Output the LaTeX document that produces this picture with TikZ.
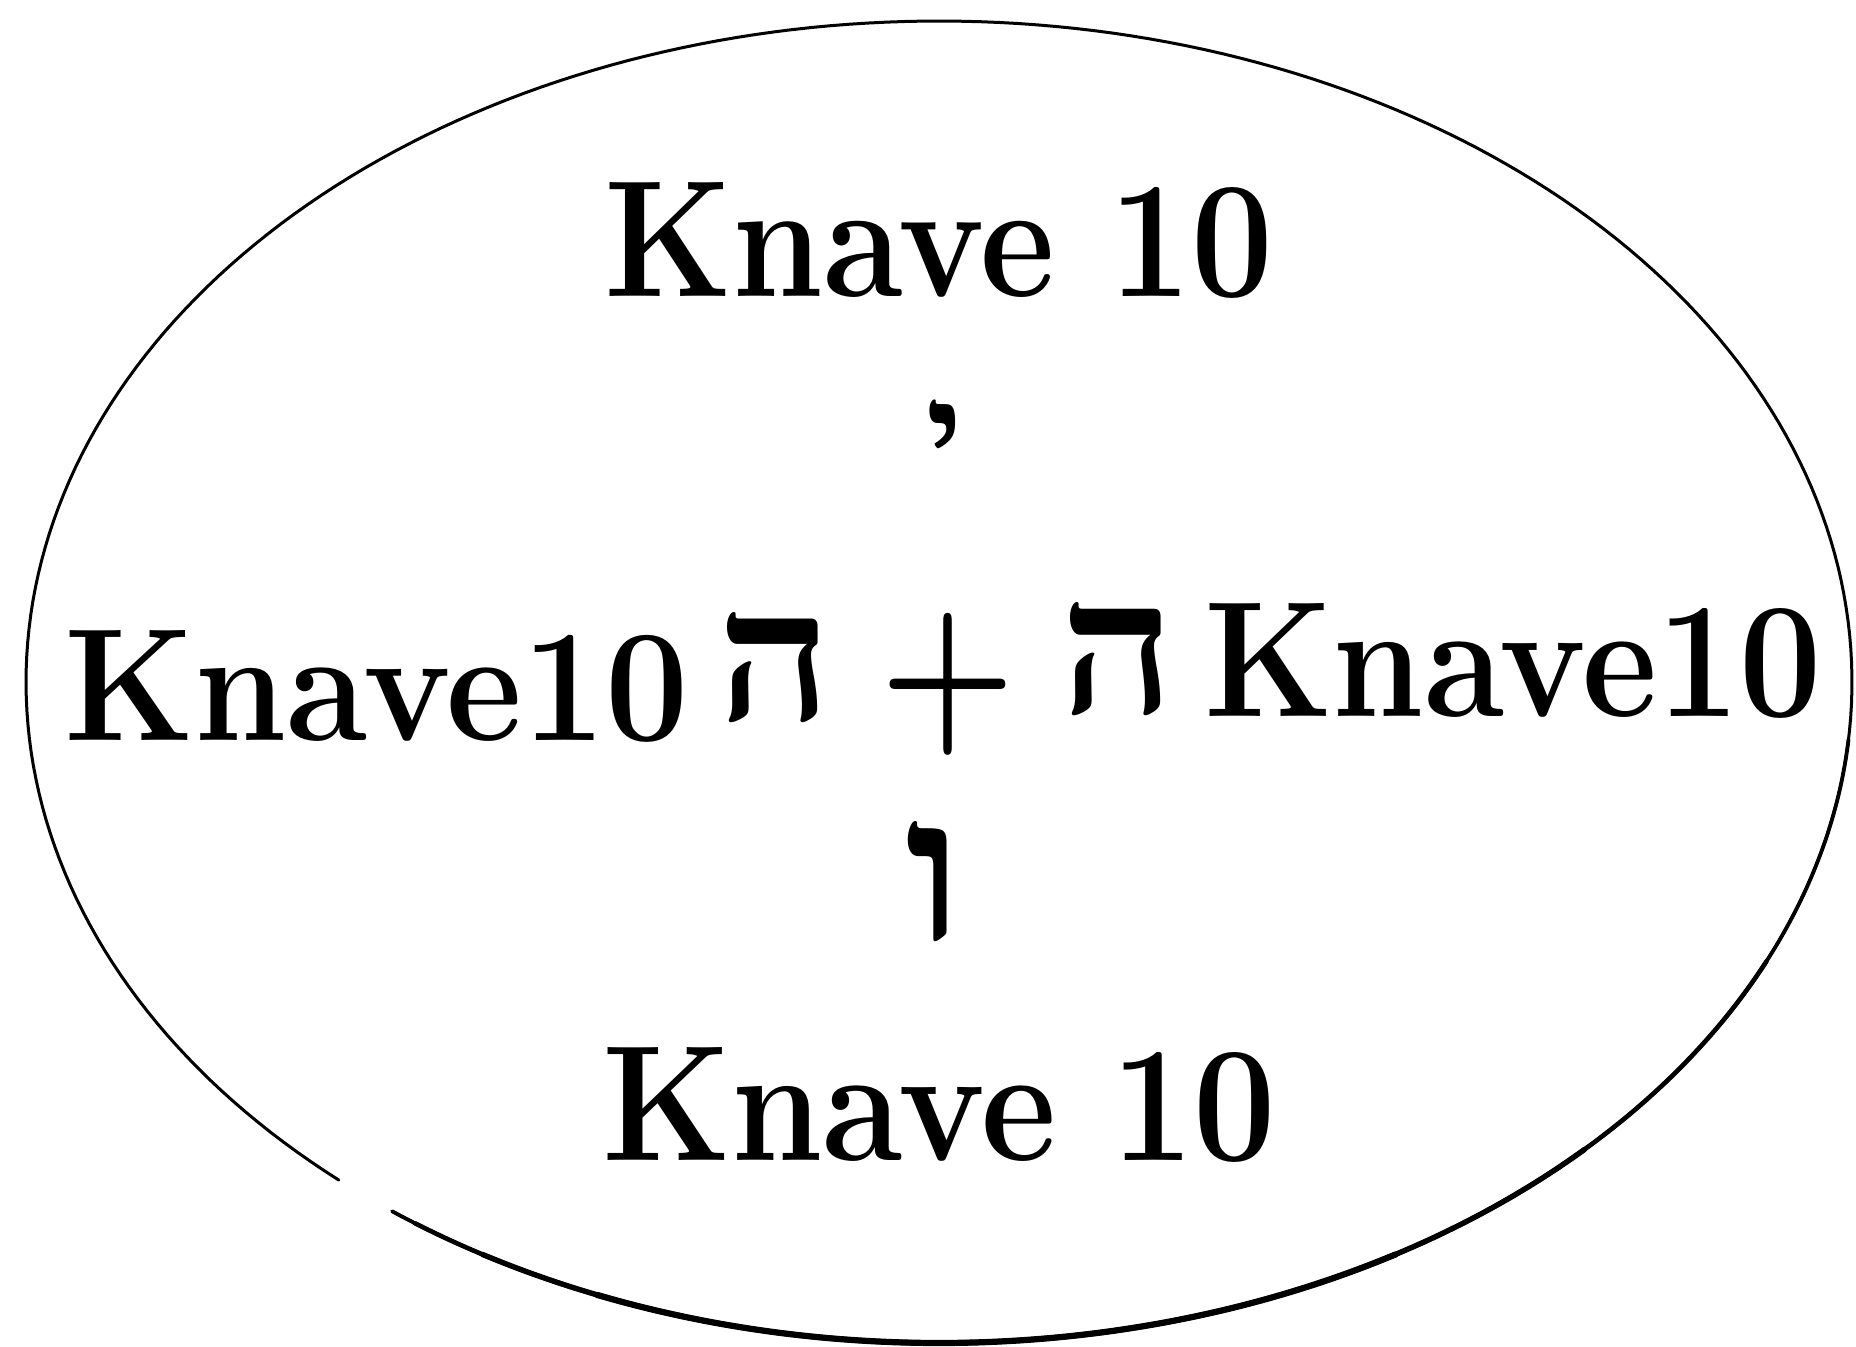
\documentclass[tikz,border=0pt]{standalone}
\usepackage{fontspec}
\usepackage{graphicx}
\newfontfamily\hebfont[Script=Hebrew]{Liberation Serif}
\TeXXeTstate=1
\tikzset{
  txt/.style={inner sep=0pt, outer sep=0pt, anchor=base west},
  heb/.style={inner sep=0pt, outer sep=0pt},
  rim/.style={line width=3pt, line cap=round},
  rimw/.style={line width=#1, line cap=round}
}
\newcommand{\kn}[3]{\resizebox{#1pt}{#2pt}{\fontsize{160}{160}\selectfont\bfseries #3}}
\newcommand{\hb}[3]{\resizebox{#1pt}{#2pt}{\fontsize{160}{160}\selectfont\hebfont\bfseries\beginR #3\endR}}
\begin{document}
\begin{tikzpicture}[x=1pt,y=-1pt]
\useasboundingbox (0,0) rectangle (1856,1347);
% outer ellipse with a small gap at lower left, heavier along the bottom
\draw[rim] plot[domain=131.1:486.8, samples=300] ({939+913*cos(\x)},{682+661*sin(\x)});
\draw[rimw=3.8pt] plot[domain=5:126.8, samples=150] ({939+913*cos(\x)},{682+661*sin(\x)});
\draw[rimw=4.6pt] plot[domain=25:125, samples=120] ({939+913*cos(\x)},{682+661*sin(\x)});
\draw[rimw=5.4pt] plot[domain=45:120, samples=100] ({939+913*cos(\x)},{682+661*sin(\x)});
\draw[rimw=6.2pt] plot[domain=60:112, samples=80] ({939+913*cos(\x)},{682+661*sin(\x)});
% texts
\node[txt] (top) at (604,296) {\kn{669}{114}{Knave 10}};
\node[txt] (left) at (64,740) {\kn{625}{110}{Knave10}};
\node[txt] (right) at (1204,716) {\kn{618}{113}{Knave10}};
\node[txt] (bottom) at (602,1160) {\kn{674}{113}{Knave 10}};
% Hebrew letters
\node[heb, anchor=north] (yod) at (944,400) {\resizebox{36pt}{!}{\fontsize{160}{160}\selectfont\hebfont\bfseries\beginR י\endR}};
\node[heb, anchor=south west] (hel) at (717,723) {\hb{115}{108}{ה}};
\node[heb, anchor=south west] (her) at (1060,716) {\hb{115}{111}{ה}};
\node[heb, anchor=south west] (vav) at (905,942) {\hb{58}{119}{ו}};
% plus
\node[heb] (plus) at (948,684) {\resizebox*{135pt}{142pt}{\fontsize{160}{160}\selectfont\bfseries +}};
\end{tikzpicture}
\end{document}
